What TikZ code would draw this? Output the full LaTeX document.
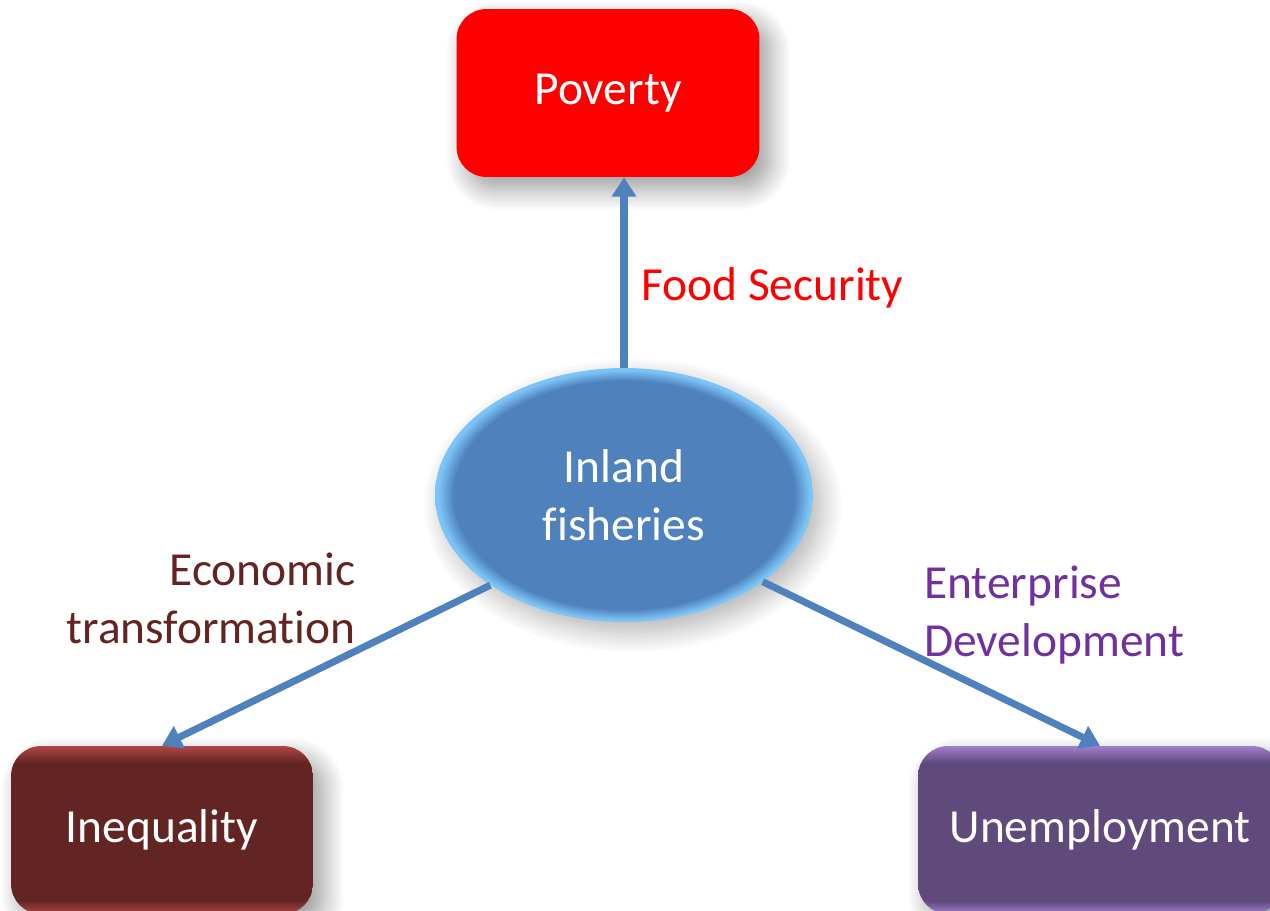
\documentclass[tikz,border=0pt]{standalone}
\usepackage{fontspec}
\setmainfont[Ligatures=CommonOff]{Carlito}
\usetikzlibrary{arrows.meta,shapes.geometric,shadows.blur}
\definecolor{povred}{HTML}{FF0000}
\definecolor{fishblue}{HTML}{4F81BD}
\definecolor{fishrim}{HTML}{7CC4F6}
\definecolor{ineqdark}{HTML}{632523}
\definecolor{ineqlight}{HTML}{B04646}
\definecolor{unempdark}{HTML}{604A7B}
\definecolor{unemplight}{HTML}{A27ECC}
\definecolor{entpurple}{HTML}{7030A0}
\pgfdeclareradialshading{fishshade}{\pgfpoint{0bp}{0bp}}{color(0bp)=(fishblue); color(22.5bp)=(fishblue); color(24.6bp)=(fishrim); color(25bp)=(fishrim); color(50bp)=(fishrim)}
\pgfdeclareverticalshading{ineqshade}{100bp}{color(0bp)=(ineqlight); color(25bp)=(ineqlight); color(29bp)=(ineqdark); color(70bp)=(ineqdark); color(75bp)=(ineqlight); color(100bp)=(ineqlight)}
\pgfdeclareverticalshading{unempshade}{100bp}{color(0bp)=(unemplight); color(25bp)=(unemplight); color(29bp)=(unempdark); color(70bp)=(unempdark); color(75bp)=(unemplight); color(100bp)=(unemplight)}
\tikzset{
  bigfont/.style={font=\fontsize{27pt}{33pt}\selectfont},
  goalbox/.style={bigfont,text=white,rounded corners=0.6cm,minimum height=3.36cm,
    blur shadow={shadow xshift=6pt,shadow yshift=-7pt,shadow blur radius=12pt,shadow blur steps=14,shadow opacity=40}},
  link/.style={draw=fishblue,line width=4pt,-{Triangle[width=13.5pt,length=11pt]}},
  lbl/.style={bigfont,inner sep=0pt}
}
\begin{document}
\begin{tikzpicture}[x=0.02cm,y=-0.02cm]
        \useasboundingbox (0,0) rectangle (1270,910);
        \node[goalbox,fill=povred,minimum width=6.06cm](pov) at(608,93){Poverty};
        \node[goalbox,shading=ineqshade,minimum width=6.04cm](ineq) at(162,830){Inequality};
        \node[goalbox,shading=unempshade,minimum width=7.28cm](unemp) at(1100,830){Unemployment};
        \node[ellipse,bigfont,text=white,align=center,inner sep=0pt,minimum width=7.56cm,minimum height=5.08cm,
          shading=fishshade,blur shadow={shadow xshift=5pt,shadow yshift=-6pt,shadow blur radius=12pt,shadow blur steps=14,shadow opacity=30}]
          (fish) at(624,495){Inland\\fisheries};
        % connectors
        \draw[link](fish.north)--(fish.north |- pov.south);
        \draw[link](fish.214)--(ineq.north);
        \draw[link](fish.-32)--(unemp.north);
        % labels
        \node[lbl,text=povred,anchor=base west](foodlbl) at(641,300){Food Security};
        \node[lbl,text=ineqdark,align=right,anchor=east](econlbl) at(356,598){Economic\\transformation};
        \node[lbl,text=entpurple,align=left,anchor=west](entlbl) at(924,615){Enterprise\\Development};
      \end{tikzpicture}
\end{document}
